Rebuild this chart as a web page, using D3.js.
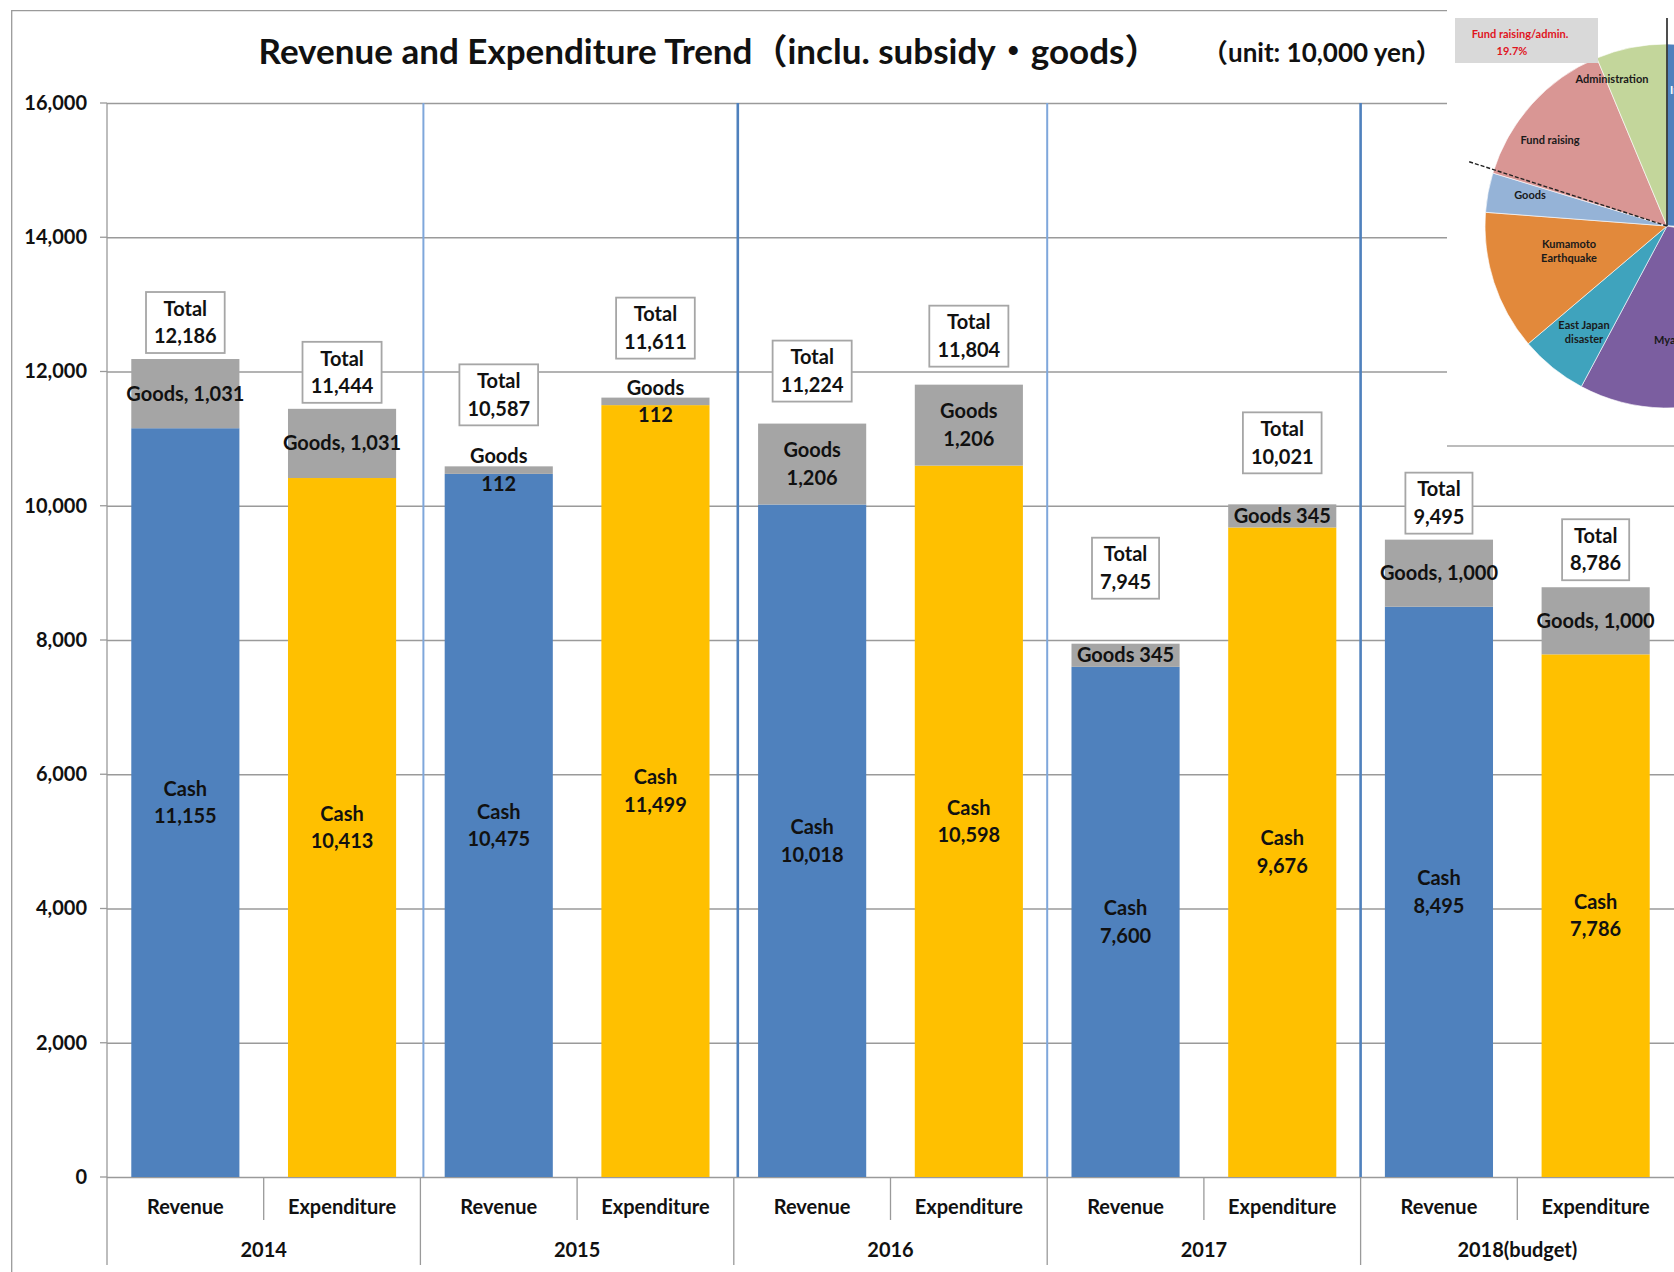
<!DOCTYPE html>
<html><head><meta charset="utf-8">
<script src="https://cdn.jsdelivr.net/npm/d3@7"></script>
<style>
html,body{margin:0;padding:0;background:#fff;}
svg{display:block;font-family:Lato,"Noto Sans CJK JP",sans-serif;}
</style></head><body>
<svg id="c" width="1674" height="1272"></svg>
<script>
// ---------- data ----------
const years = ["2014", "2015", "2016", "2017", "2018(budget)"];
const kinds = ["Revenue", "Expenditure"];
const cashValues  = [11155, 10413, 10475, 11499, 10018, 10598, 7600, 9676, 8495, 7786];
const goodsValues = [1031, 1031, 112, 112, 1206, 1206, 345, 345, 1000, 1000];
const goodsLabelForm = ["comma", "comma", "stack", "stack", "stack", "stack", "space", "space", "comma", "comma"];
const yTicks = [0, 2000, 4000, 6000, 8000, 10000, 12000, 14000, 16000];
const titleText = "Revenue and Expenditure Trend（inclu. subsidy・goods）";
const unitText = "（unit: 10,000 yen）";

// inset pie (expenditure breakdown, clockwise from top)
const pieNames  = ["International", "Other A", "Other B", "Myanmar", "East Japan|disaster", "Kumamoto|Earthquake", "Goods", "Fund raising", "Administration"];
const pieShares = [25.6, 1.4, 0.8, 30.0, 6.0, 12.4, 3.5, 14.0, 6.3];
const pieNote = ["Fund raising/admin.", "19.7%"];

// ---------- layout (pixels) ----------
const totalBoxGap = [6, 6, 41, 39, 22, 18, 45, 31, 6, 7];
const pieColors = ["#4f81bd", "#c0504d", "#9bbb59", "#7b5ea0", "#3fa3bd", "#e2893b", "#95b3d7", "#d99694", "#c3d69b"];
const pieLabelOffsets = [[3, -136, "start"], null, null, [-13, 114, "start"], [-83, 99, "middle"], [-98, 18, "middle"], [-137, -31, "middle"], [-117, -86, "middle"], [-55, -147, "middle"]];
const dashAngleDeg = -72;

const W = 1674, H = 1272;
const L = 107, R = 1674, T = 103, B = 1177;
const svg = d3.select("#c");
const fmt = d3.format(",");

const x = d3.scaleBand().domain(d3.range(cashValues.length)).range([L, R]).paddingInner(0.31).paddingOuter(0.155);
const y = d3.scaleLinear().domain([0, 16000]).range([B, T]);

// outer chart border
svg.append("path").attr("d", `M11.7,${H+5}V10.7H${W+5}`).attr("fill", "none").attr("stroke", "#9a9a9a").attr("stroke-width", 1.3);

// title
svg.append("text").attr("x", 709).attr("y", 64).attr("text-anchor", "middle")
  .attr("font-size", 35).attr("font-weight", 700).attr("fill", "#111").text(titleText);
svg.append("text").attr("x", 1202).attr("y", 62).attr("text-anchor", "start")
  .attr("font-size", 26).attr("font-weight", 700).attr("fill", "#111").text(unitText);

// y axis with gridlines
const yAxis = d3.axisLeft(y).tickValues(yTicks).tickSize(-(R - L)).tickPadding(20).tickFormat(fmt);
const gy = svg.append("g").attr("transform", `translate(${L},0)`).call(yAxis);
gy.select(".domain").remove();
gy.selectAll(".tick line").attr("stroke", "#9a9a9a").attr("stroke-width", 1.3);
gy.selectAll(".tick text").attr("font-size", 20).attr("font-weight", 700).attr("fill", "#111").attr("font-family", "Lato");
// small outer ticks
svg.append("g").selectAll("line").data(yTicks).join("line")
  .attr("x1", L - 7).attr("x2", L).attr("y1", d => y(d)).attr("y2", d => y(d))
  .attr("stroke", "#9a9a9a").attr("stroke-width", 1.3);
// y axis line extending into category axis
svg.append("line").attr("x1", L).attr("x2", L).attr("y1", T).attr("y2", 1265).attr("stroke", "#9a9a9a").attr("stroke-width", 1.3);

// category axis dividers
const step = x.step();
const bounds = d3.range(1, cashValues.length);
svg.append("g").selectAll("line").data(bounds).join("line")
  .attr("x1", i => L + i * step).attr("x2", i => L + i * step)
  .attr("y1", B).attr("y2", i => i % 2 === 0 ? 1265 : 1220)
  .attr("stroke", "#9a9a9a").attr("stroke-width", 1.3);

// blue year separators inside plot
svg.append("g").selectAll("line").data([2, 4, 6, 8]).join("line")
  .attr("x1", i => L + i * step + (i === 2 ? 3 : i === 4 ? 4 : 0)).attr("x2", i => L + i * step + (i === 2 ? 3 : i === 4 ? 4 : 0))
  .attr("y1", T).attr("y2", B)
  .attr("stroke", i => (i === 4 || i === 8) ? "#4f81bd" : "#7fa7db")
  .attr("stroke-width", i => (i === 4 || i === 8) ? 2.6 : 2);

// category labels
svg.append("g").selectAll("text").data(d3.range(cashValues.length)).join("text")
  .attr("x", i => x(i) + x.bandwidth() / 2).attr("y", 1214).attr("text-anchor", "middle")
  .attr("font-size", 20).attr("font-weight", 700).attr("fill", "#111")
  .text(i => kinds[i % 2]);
svg.append("g").selectAll("text").data(years).join("text")
  .attr("x", (d, k) => L + (2 * k + 1) * step).attr("y", 1257).attr("text-anchor", "middle")
  .attr("font-size", 20).attr("font-weight", 700).attr("fill", "#111")
  .text(d => d);

// bars
const barG = svg.append("g");
const idx = d3.range(cashValues.length);
barG.selectAll("rect.cash").data(idx).join("rect").attr("class", "cash")
  .attr("x", i => x(i)).attr("width", x.bandwidth())
  .attr("y", i => y(cashValues[i])).attr("height", i => y(0) - y(cashValues[i]))
  .attr("fill", i => i % 2 === 0 ? "#4f81bd" : "#ffc000");
barG.selectAll("rect.goods").data(idx).join("rect").attr("class", "goods")
  .attr("x", i => x(i)).attr("width", x.bandwidth())
  .attr("y", i => y(cashValues[i] + goodsValues[i])).attr("height", i => y(cashValues[i]) - y(cashValues[i] + goodsValues[i]))
  .attr("fill", "#a5a5a5");

// labels helper
const LH = 27.5;
function multiLine(g, cx, cy, lines, size) {
  const t = g.append("text").attr("text-anchor", "middle").attr("font-size", size).attr("font-weight", 700).attr("fill", "#111");
  const n = lines.length;
  lines.forEach((s, k) => {
    t.append("tspan").attr("x", cx).attr("y", cy + (k - (n - 1) / 2) * LH + size * 0.35).text(s);
  });
  return t;
}
const labG = svg.append("g");
idx.forEach(i => {
  const cx = x(i) + x.bandwidth() / 2;
  // cash
  multiLine(labG, cx, (y(0) + y(cashValues[i])) / 2, ["Cash", fmt(cashValues[i])], 20);
  // goods
  const gy0 = (y(cashValues[i]) + y(cashValues[i] + goodsValues[i])) / 2;
  const f = goodsLabelForm[i];
  const lines = f === "stack" ? ["Goods", fmt(goodsValues[i])] : f === "space" ? ["Goods " + fmt(goodsValues[i])] : ["Goods, " + fmt(goodsValues[i])];
  multiLine(labG, cx, gy0, lines, 20);
  // total box
  const total = cashValues[i] + goodsValues[i];
  const boxBottom = y(total) - totalBoxGap[i];
  const boxH = 61;
  const bg = labG.append("g");
  const rect = bg.append("rect");
  const t = multiLine(bg, cx, boxBottom - boxH / 2, ["Total", fmt(total)], 20);
  const bw = t.node().getBBox().width + 16;
  rect.attr("x", cx - bw / 2).attr("y", boxBottom - boxH).attr("width", bw).attr("height", boxH)
    .attr("fill", "#fff").attr("stroke", "#a6a6a6").attr("stroke-width", 1.8);
});

// ---------- inset pie image ----------
const inset = svg.append("g");
inset.append("rect").attr("x", 1447).attr("y", 0).attr("width", W - 1447).attr("height", 446).attr("fill", "#fff");
inset.append("line").attr("x1", 1447).attr("x2", W).attr("y1", 446).attr("y2", 446).attr("stroke", "#a6a6a6").attr("stroke-width", 1.5);
const pc = [1667, 226], pr = 182;
const arcs = d3.pie().sort(null).value(d => d)(pieShares);
const arcGen = d3.arc().innerRadius(0).outerRadius(pr);
const pg = inset.append("g").attr("transform", `translate(${pc[0]},${pc[1]})`);
pg.selectAll("path").data(arcs).join("path").attr("d", arcGen).attr("fill", (d, i) => pieColors[i]).attr("stroke", "#fff").attr("stroke-width", 0.6);
// separator lines
pg.append("line").attr("x1", 0).attr("y1", 0).attr("x2", 0).attr("y2", -208).attr("stroke", "#222").attr("stroke-width", 1.6);
const aDash = dashAngleDeg * Math.PI / 180;
pg.append("line").attr("x1", 0).attr("y1", 0).attr("x2", 208 * Math.sin(aDash)).attr("y2", -208 * Math.cos(aDash))
  .attr("stroke", "#222").attr("stroke-width", 1.4).attr("stroke-dasharray", "4,2");
// labels
pieNames.forEach((nm, i) => {
  const o = pieLabelOffsets[i];
  if (!o) return;
  const parts = nm.split("|");
  const t = pg.append("text").attr("text-anchor", o[2]).attr("font-size", 11).attr("font-weight", 700)
    .attr("fill", i === 0 ? "#fff" : "#1a1a1a");
  parts.forEach((p, k) => t.append("tspan").attr("x", o[0]).attr("y", o[1] + k * 14 + 4).text(p));
});
// note box
inset.append("rect").attr("x", 1455).attr("y", 18).attr("width", 143).attr("height", 45).attr("fill", "#d9d9d9");
inset.append("text").attr("x", 1520).attr("y", 38).attr("text-anchor", "middle").attr("font-size", 11).attr("font-weight", 700).attr("fill", "#e0141e").text(pieNote[0]);
inset.append("text").attr("x", 1512).attr("y", 55).attr("text-anchor", "middle").attr("font-size", 11).attr("font-weight", 700).attr("fill", "#e0141e").text(pieNote[1]);
</script>
</body></html>
